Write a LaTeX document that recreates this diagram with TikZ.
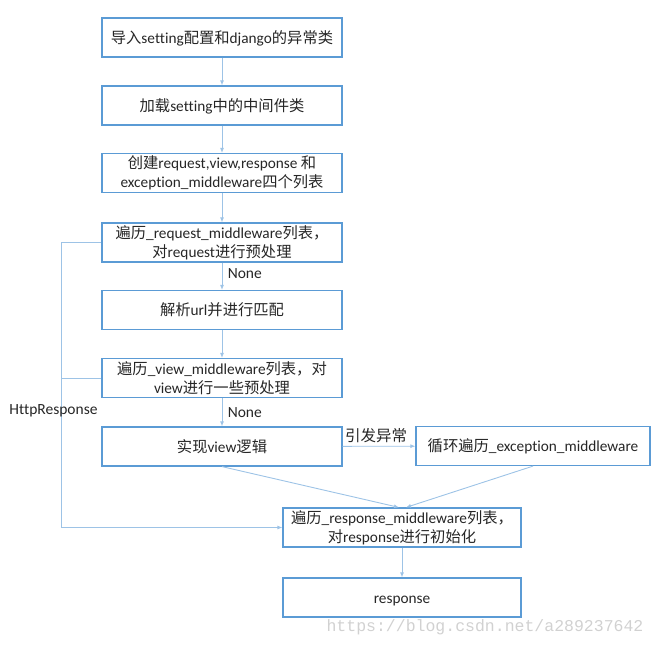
\documentclass[tikz,border=0pt]{standalone}
\usepackage{fontspec}
\setmainfont{Carlito}[Ligatures=NoCommon]
\newfontfamily\cjk{Noto Sans CJK SC}
\newfontfamily\wmfont{Liberation Mono}
\usetikzlibrary{arrows.meta}
\definecolor{boxblue}{HTML}{5B9BD5}
\definecolor{linkblue}{HTML}{9DC3E6}
\definecolor{txt}{HTML}{262626}
\begin{document}
\begin{tikzpicture}[x=1pt,y=-1pt,
  box/.style={draw=boxblue, line width=1.2pt, minimum height=39pt, inner sep=0pt,
    align=center, font=\fontsize{15.3}{19}\selectfont, text=txt},
  one/.style={text height=13pt, text depth=2pt},
  lbox/.style={box, minimum width=240pt},
  rbox/.style={box, minimum width=238pt},
  link/.style={draw=linkblue, line width=0.9pt, -{Latex[length=5pt,width=4pt]}},
  plain/.style={draw=linkblue, line width=0.9pt},
  lab/.style={font=\fontsize{15.5}{18}\selectfont, text=txt}]
\useasboundingbox (0,0) rectangle (656,646);
\node[lbox, one] (b1) at (222,37.5) {{\cjk 导入}setting{\cjk 配置和}django{\cjk 的异常类}};
\node[lbox, one] (b2) at (222,105.5) {{\cjk 加载}setting{\cjk 中的中间件类}};
\node[lbox] (b3) at (222,173) {{\cjk 创建}request,view,response {\cjk 和}\\exception\_middleware{\cjk 四个列表}};
\node[lbox] (b4) at (222,242.5) {{\cjk 遍历}\_request\_middleware{\cjk 列表，}\\{\cjk 对}request{\cjk 进行预处理}};
\node[lbox, one] (b5) at (222,310) {{\cjk 解析}url{\cjk 并进行匹配}};
\node[lbox] (b6) at (222,378) {{\cjk 遍历}\_view\_middleware{\cjk 列表，对}\\view{\cjk 进行一些预处理}};
\node[lbox, one] (b7) at (222,446.5) {{\cjk 实现}view{\cjk 逻辑}};
\node[box, one, minimum width=234pt] (b8) at (533,446) {{\cjk 循环遍历}\_exception\_middleware};
\node[rbox] (b9) at (402,527.5) {{\cjk 遍历}\_response\_middleware{\cjk 列表，}\\{\cjk 对}response{\cjk 进行初始化}};
\node[rbox, one] (b10) at (402,597.5) {response};

\draw[link] (b1) -- (b2);
\draw[link] (b2) -- (b3);
\draw[link] (b3) -- (b4);
\draw[link] (b4) -- node[lab, anchor=west, pos=0.4, xshift=2pt] (n1) {None} (b5);
\draw[link] (b5) -- (b6);
\draw[link] (b6) -- node[lab, anchor=west, pos=0.5, xshift=2pt] (n2) {None} (b7);
\draw[link] (b7) -- node[lab, above, pos=0.46, inner sep=3pt] (ex) {\cjk 引发异常} (b8);
\draw[link] (b7.south) -- ([xshift=-3pt]b9.north);
\draw[link] (b8.south) -- ([xshift=4pt]b9.north);
\draw[link] (b9) -- (b10);
\coordinate (c1) at (61,242.5);
\coordinate (c2) at (61,378);
\draw[link] (b4.west) -- (c1) |- (b9.west);
\draw[plain] (b6.west) -- (c2);
\node[lab] (hr) at (53.5,411) {HttpResponse};
\node[font=\wmfont\fontsize{16.5}{18}\selectfont, text=black!18] (wm) at (485,627) {https://blog.csdn.net/a289237642};
\end{tikzpicture}
\end{document}
